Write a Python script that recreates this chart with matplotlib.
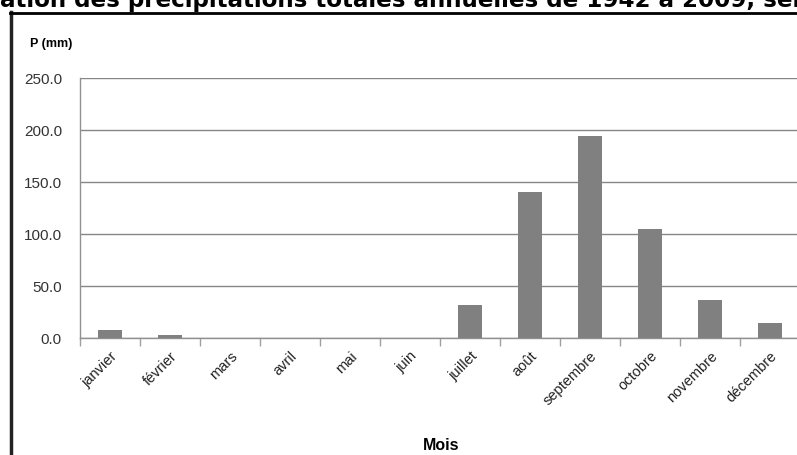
import matplotlib
matplotlib.use("Agg")
import matplotlib.pyplot as plt
from matplotlib.lines import Line2D

mois = ['janvier', 'février', 'mars', 'avril', 'mai', 'juin', 'juillet',
        'août', 'septembre', 'octobre', 'novembre', 'décembre']
precip = [8.0, 2.5, 0.0, 0.0, 0.0, 0.0, 32.0, 140.0, 194.0, 105.0, 37.0, 14.5]
yticks = [0, 50, 100, 150, 200, 250]

plt.rcParams['font.family'] = ['Liberation Sans', 'DejaVu Sans']

W, H = 797, 455
fig = plt.figure(figsize=(W / 100, H / 100), dpi=100)

# axes placed in pixel coords (chart is cropped on the right)
x0, x1, ytop, ybot = 80, 800, 78, 338
ax = fig.add_axes([x0 / W, (H - ybot) / H, (x1 - x0) / W, (ybot - ytop) / H])

x = list(range(len(mois)))
ax.bar(x, precip, width=0.4, color='#808080', zorder=3)
ax.set_xlim(-0.5, len(mois) - 0.5)
ax.set_ylim(0, 250)
ax.set_yticks(yticks)
ax.set_yticklabels(['%.1f' % v for v in yticks], fontsize=11, color='#333333')
ax.tick_params(axis='y', length=0, pad=13)
ax.grid(axis='y', color='#868686', linewidth=1, zorder=0)

ax.set_xticks(x)
ax.set_xticklabels(mois, rotation=45, ha='right', va='top',
                   rotation_mode='anchor', fontsize=10.5, color='#222222')
ax.tick_params(axis='x', length=0, pad=8)
ax.set_xticks([i - 0.5 for i in range(len(mois) + 1)], minor=True)
ax.tick_params(axis='x', which='minor', length=6, color='#a0a0a0', width=1)

for s in ['top', 'right']:
    ax.spines[s].set_visible(False)
for s in ['left', 'bottom']:
    ax.spines[s].set_color('#909090')
    ax.spines[s].set_linewidth(1)

fig.text(30 / W, 1 - 44 / H, 'P (mm)', fontsize=9, fontweight='bold', va='center')
fig.text(441 / W, 1 - 445 / H, 'Mois', fontsize=11.5, fontweight='bold',
         ha='center', va='center')

# chart frame (partly cropped)
fig.add_artist(Line2D([11 / W, 11 / W], [0, 1 - 12 / H], transform=fig.transFigure,
                      color='#222222', linewidth=2.5))
fig.add_artist(Line2D([10 / W, 1], [1 - 12.5 / H, 1 - 12.5 / H], transform=fig.transFigure,
                      color='black', linewidth=2))

# cropped title: size it so the visible part fills the width like the reference
title = "Variation des précipitations totales annuelles de 1942 à 2009, selon les mois"
fig.canvas.draw()
r = fig.canvas.get_renderer()
tmp = fig.text(0, 0, "ation des précipitations totales annuelles de 1942 à 2009, se",
               fontsize=10, fontweight='bold', family='DejaVu Sans')
fs = 10 * W / tmp.get_window_extent(r).width
tmp.remove()
tmp = fig.text(0, 0, "Vari", fontsize=fs, fontweight='bold', family='DejaVu Sans')
wpre = tmp.get_window_extent(r).width
tmp.remove()
fig.text(-wpre / W, 1 - 6.5 / H, title, fontsize=fs, fontweight='bold',
         family='DejaVu Sans', va='baseline')

fig.savefig('out.png', dpi=100)
